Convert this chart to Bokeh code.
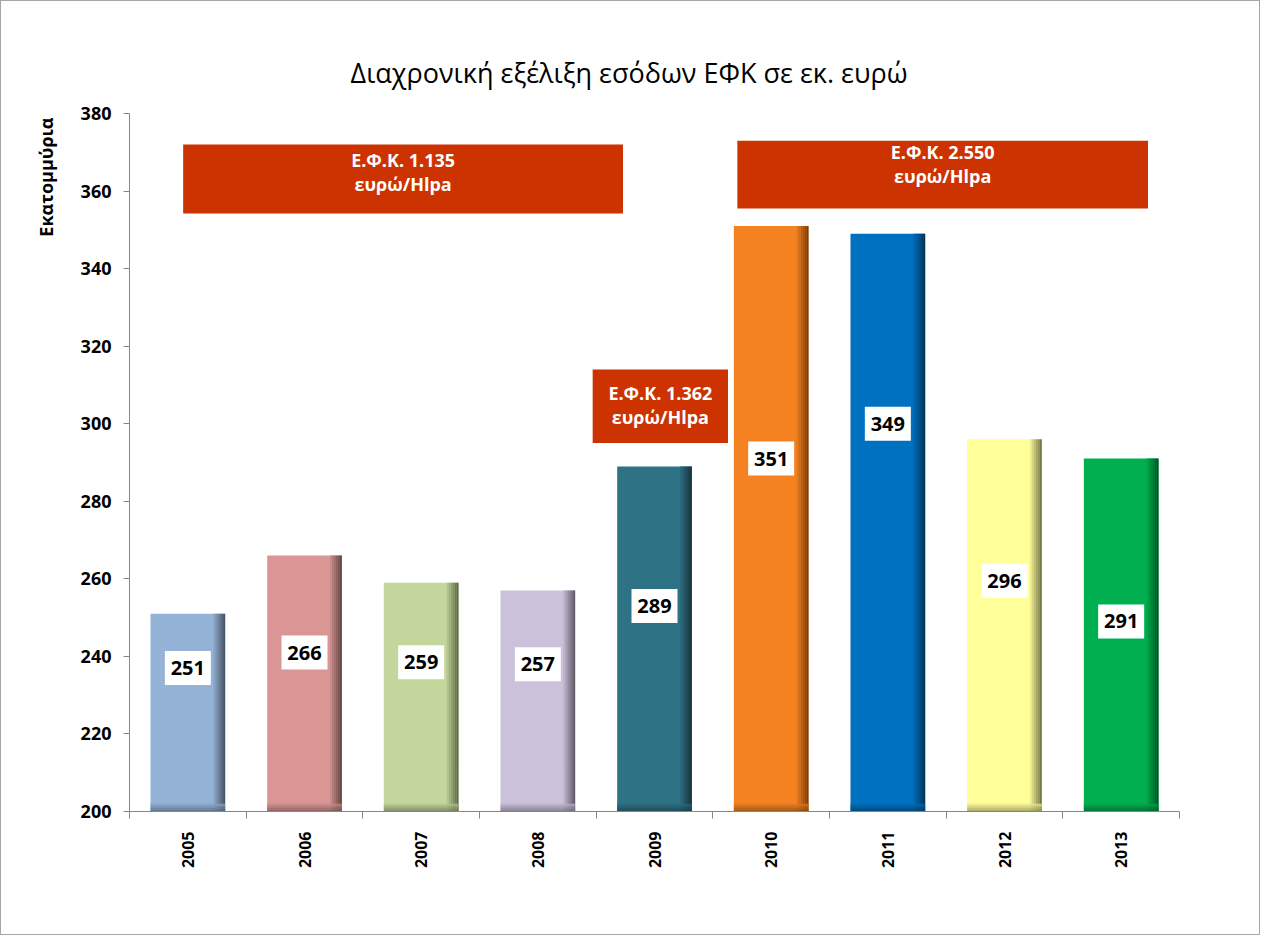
import math
from bokeh.plotting import figure
from bokeh.models import FixedTicker, Range1d, Title
from bokeh.core.properties import value
from bokeh.embed import file_html
from bokeh.resources import INLINE

# ---- data ----
years = ["2005", "2006", "2007", "2008", "2009", "2010", "2011", "2012", "2013"]
revenue = [251, 266, 259, 257, 289, 351, 349, 296, 291]
bar_colors = ["#95B3D7", "#D99694", "#C3D69B", "#CCC1DA", "#2E7286",
              "#F58220", "#0070C0", "#FFFF99", "#00B050"]
label_y = [237, 241, 238.5, 238, 253, 291, 300, 259.5, 249]

tax_texts = ["Ε.Φ.Κ. 1.135\nευρώ/Hlpa", "Ε.Φ.Κ. 2.550\nευρώ/Hlpa", "Ε.Φ.Κ. 1.362\nευρώ/Hlpa"]
tax_left = [0.46, 5.21, 3.97]
tax_right = [4.23, 8.73, 5.13]
tax_bottom = [354.2, 355.5, 295.0]
tax_top = [372.0, 373.0, 314.0]
tax_text_y = [365.0, 367.0, 304.7]

title_text = "Διαχρονική εξέλιξη εσόδων ΕΦΚ σε εκ. ευρώ"
y_label = "Εκατομμύρια"
y_ticks = [200, 220, 240, 260, 280, 300, 320, 340, 360, 380]

FONT = "Open Sans"

def darken(hex_color, f):
    h = hex_color.lstrip("#")
    r, g, b = int(h[0:2], 16), int(h[2:4], 16), int(h[4:6], 16)
    r, g, b = (int(round(c * (1 - f))) for c in (r, g, b))
    return "#%02x%02x%02x" % (r, g, b)

n = len(years)
centers = [i + 0.5 for i in range(n)]
bw = 0.64

p = figure(width=1260, height=935, output_backend="svg", toolbar_location=None,
           x_range=Range1d(0, n), y_range=Range1d(200, 380),
           min_border_left=128, min_border_right=82, min_border_top=112,
           min_border_bottom=125)
p.styles = {"border": "1px solid #a6a6a6"}

p.title.text = title_text
p.title.align = "left"
p.title.offset = 221
p.title.text_font = FONT
p.title.text_font_size = "27px"
p.title.text_font_style = "normal"
p.title.text_color = "#000000"
p.title.standoff = 45

p.grid.visible = False
p.outline_line_color = None
p.background_fill_color = "white"
p.border_fill_color = "white"

# bars
p.vbar(x=centers, top=revenue, bottom=200, width=bw, fill_color=bar_colors, line_color=None)
# right-edge shading
nstrip = 6
sw = 0.017
for k in range(nstrip):
    f = 0.08 + 0.09 * k
    lefts = [c + bw / 2 - (nstrip - k) * sw for c in centers]
    rights = [c + bw / 2 - (nstrip - k - 1) * sw for c in centers]
    p.quad(left=lefts, right=rights, bottom=[200] * n, top=revenue,
           fill_color=[darken(c, f) for c in bar_colors], line_color=None)
# bottom shading
for k in range(4):
    f = 0.10 + 0.1 * k
    p.quad(left=[c - bw / 2 for c in centers], right=[c + bw / 2 for c in centers],
           bottom=[200 + 0.5 * (3 - k)] * n, top=[200 + 0.5 * (4 - k)] * n,
           fill_color=[darken(c, f) for c in bar_colors], line_color=None, fill_alpha=0.8)

# value labels
p.rect(x=centers, y=label_y, width=46, height=34, width_units="screen", height_units="screen",
       fill_color="white", line_color=None)
p.text(x=centers, y=label_y, text=[str(v) for v in revenue], text_align="center",
       text_baseline="middle", text_font=value(FONT), text_font_style="bold",
       text_font_size="20px", text_color="#000000")

# tax annotation boxes
p.quad(left=tax_left, right=tax_right, bottom=tax_bottom, top=tax_top,
       fill_color="#CC3300", line_color=None)
p.text(x=[(a + b) / 2 for a, b in zip(tax_left, tax_right)],
       y=tax_text_y,
       text=tax_texts, text_align="center", text_baseline="middle",
       text_font=value(FONT), text_font_style="bold", text_font_size="18px",
       text_color="white", text_line_height=1.0)

# axes
ax_col = "#868686"
p.yaxis.ticker = FixedTicker(ticks=y_ticks)
p.yaxis.axis_line_color = ax_col
p.yaxis.major_tick_line_color = ax_col
p.yaxis.major_tick_in = 0
p.yaxis.major_tick_out = 6
p.yaxis.minor_tick_line_color = None
p.yaxis.major_label_text_font = FONT
p.yaxis.major_label_text_font_style = "bold"
p.yaxis.major_label_text_font_size = "18px"
p.yaxis.major_label_text_color = "#000000"
p.yaxis.major_label_standoff = 12

p.xaxis.ticker = FixedTicker(ticks=centers, minor_ticks=list(range(n + 1)))
p.xaxis.major_label_overrides = {c: y for c, y in zip(centers, years)}
p.xaxis.axis_line_color = ax_col
p.xaxis.major_tick_line_color = None
p.xaxis.minor_tick_line_color = ax_col
p.xaxis.minor_tick_in = 0
p.xaxis.minor_tick_out = 7
p.xaxis.major_label_orientation = math.pi / 2
p.xaxis.major_label_text_font = FONT
p.xaxis.major_label_text_font_style = "bold"
p.xaxis.major_label_text_font_size = "16px"
p.xaxis.major_label_text_color = "#000000"
p.xaxis.major_label_standoff = 13

# y axis title at top of axis
p.add_layout(Title(text=y_label, align="right", offset=4, text_font=FONT, text_font_style="bold",
                   text_font_size="18px", text_color="#000000", standoff=39), "left")

open("out.html", "w").write(file_html(p, INLINE))
